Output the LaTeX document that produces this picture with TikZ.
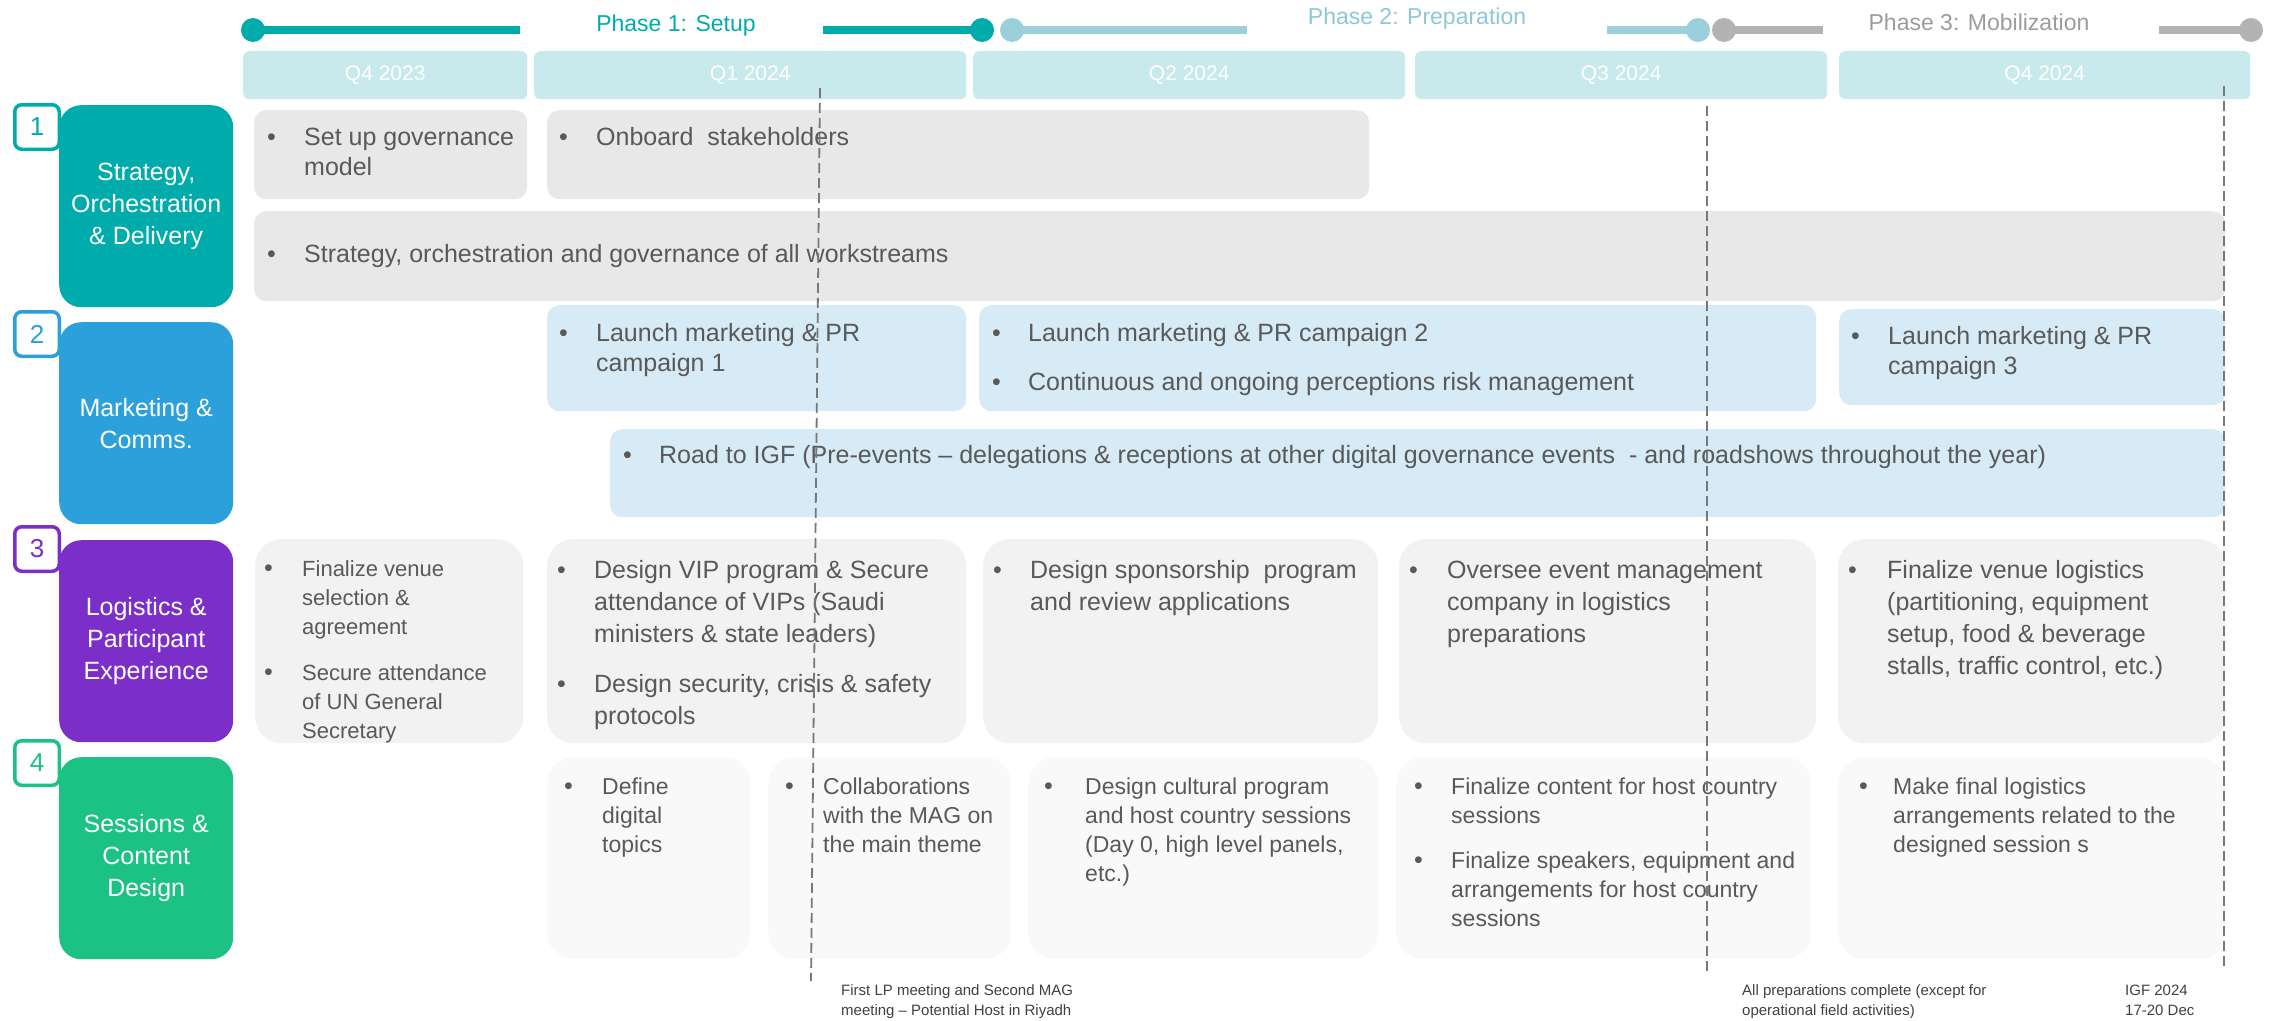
\documentclass[tikz,border=0pt]{standalone}
\usepackage{fontspec}
\setmainfont{Liberation Sans}
\usetikzlibrary{calc}
\definecolor{teal1}{HTML}{00ABAB}
\definecolor{ph2}{HTML}{9BCFDB}
\definecolor{ph2t}{HTML}{8CC8D6}
\definecolor{ph3}{HTML}{B3B3B3}
\definecolor{ph3t}{HTML}{9C9C9C}
\definecolor{qfill}{HTML}{C8EAEC}
\definecolor{cblue}{HTML}{2BA0DA}
\definecolor{cpurple}{HTML}{7B2FC8}
\definecolor{cgreen}{HTML}{1CC184}
\definecolor{gA}{HTML}{E8E8E8}
\definecolor{bB}{HTML}{D6EBF5}
\definecolor{gC}{HTML}{F2F2F2}
\definecolor{gD}{HTML}{F9F9F9}
\definecolor{txtc}{HTML}{595959}
\definecolor{dashc}{HTML}{787878}
\definecolor{annc}{HTML}{404040}
\newcommand{\fA}{\fontsize{25}{30}\selectfont}
\newcommand{\fB}{\fontsize{25}{32}\selectfont}
\newcommand{\fC}{\fontsize{22}{29}\selectfont}
\newcommand{\fD}{\fontsize{23}{29}\selectfont}
\newcommand{\bu}{{\fontsize{25}{25}\selectfont\textbullet}}
\newcommand{\BI}[1]{\makebox[#1][l]{\hspace*{-1pt}\bu}}
\tikzset{
  bx/.style={rectangle, rounded corners=12pt, inner sep=0pt, draw=none, anchor=north west},
  bxr/.style={rectangle, rounded corners=26pt, inner sep=0pt, draw=none, anchor=north west},
  tx/.style={inner sep=0pt, anchor=north west, text=txtc},
  cat/.style={rectangle, rounded corners=22pt, inner sep=0pt, anchor=north west, minimum width=174pt, minimum height=202pt, text=white, align=center, font=\fB},
  badge/.style={rectangle, rounded corners=7pt, line width=3.5pt, fill=white, minimum size=44.5pt, inner sep=0pt, font=\fontsize{26}{26}\selectfont},
  qbox/.style={rectangle, rounded corners=6pt, fill=qfill, inner sep=0pt, anchor=north west, minimum height=48pt, text=white, font=\fontsize{21}{21}\selectfont},
  dot/.style={circle, inner sep=0pt, minimum size=24pt},
  phline/.style={line width=8pt},
  dashline/.style={draw=dashc, line width=1.8pt, dash pattern=on 10pt off 5pt},
  annot/.style={inner sep=0pt, anchor=north west, text=annc, font=\fontsize{15}{20}\selectfont}
}
\begin{document}
\begin{tikzpicture}[x=1pt,y=-1pt]
\useasboundingbox (0,0) rectangle (2280,1020);
% ---------- phases ----------
\node[dot, fill=teal1] (p1a) at (253,30) {};
\node[dot, fill=teal1] (p1b) at (982,30) {};
\coordinate (p1l) at (520,30);
\coordinate (p1r) at (823,30);
\draw[phline, teal1] (p1a.center) -- (p1l);
\draw[phline, teal1] (p1r) -- (p1b.center);
\node[text=teal1, font=\fontsize{23}{23}\selectfont] (p1t) at (676,26) {Phase 1: Setup};
\node[dot, fill=ph2] (p2a) at (1012,30) {};
\node[dot, fill=ph2] (p2b) at (1698,30) {};
\coordinate (p2l) at (1247,30);
\coordinate (p2r) at (1607,30);
\draw[phline, ph2] (p2a.center) -- (p2l);
\draw[phline, ph2] (p2r) -- (p2b.center);
\node[text=ph2t, font=\fontsize{23}{23}\selectfont] (p2t) at (1417,19) {Phase 2: Preparation};
\node[dot, fill=ph3] (p3a) at (1724,30) {};
\node[dot, fill=ph3] (p3b) at (2251,30) {};
\coordinate (p3l) at (1823,30);
\coordinate (p3r) at (2159,30);
\draw[phline, ph3] (p3a.center) -- (p3l);
\draw[phline, ph3] (p3r) -- (p3b.center);
\node[text=ph3t, font=\fontsize{23}{23}\selectfont] (p3t) at (1979,22) {Phase 3: Mobilization};
% ---------- quarters ----------
\node[qbox, minimum width=284pt] (q1) at (243,51) {Q4 2023};
\node[qbox, minimum width=432pt] (q2) at (534,51) {Q1 2024};
\node[qbox, minimum width=432pt] (q3) at (973,51) {Q2 2024};
\node[qbox, minimum width=412pt] (q4) at (1415,51) {Q3 2024};
\node[qbox, minimum width=411pt] (q5) at (1839,51) {Q4 2024};
% ---------- badges and categories ----------
\node[badge, draw=teal1, text=teal1] (n1) at (37,127) {1};
\node[badge, draw=cblue, text=cblue] (n2) at (37,334) {2};
\node[badge, draw=cpurple, text=cpurple] (n3) at (37,549) {3};
\node[badge, draw=cgreen, text=cgreen] (n4) at (37,763) {4};
\node[cat, fill=teal1] (c1) at (59,105) {Strategy,\\Orchestration\\\& Delivery};
\node[cat, fill=cblue] (c2) at (59,322) {Marketing \&\\Comms.};
\node[cat, fill=cpurple] (c3) at (59,540) {Logistics \&\\Participant\\Experience};
\node[cat, fill=cgreen] (c4) at (59,757) {Sessions \&\\Content\\Design};
% ---------- row 1 ----------
\node[bx, fill=gA, minimum width=273pt, minimum height=89pt] (r1a) at (254,110) {};
\node[bx, fill=gA, minimum width=822pt, minimum height=89pt] (r1b) at (547,110) {};
\node[bx, fill=gA, minimum width=1971pt, minimum height=90pt] (r1c) at (254,211) {};
\node[tx, font=\fA] (t1a) at ($(r1a.north west)+(14,14)$) {\begin{tabular}{@{}l@{}l@{}}\BI{36pt}&Set up governance\\&model\end{tabular}};
\node[tx, font=\fA] (t1b) at ($(r1b.north west)+(13,14)$) {\begin{tabular}{@{}l@{}l@{}}\BI{36pt}&Onboard\ \ stakeholders\end{tabular}};
\node[tx, font=\fA] (t1c) at ($(r1c.north west)+(14,30)$) {\begin{tabular}{@{}l@{}l@{}}\BI{36pt}&Strategy, orchestration and governance of all workstreams\end{tabular}};
% ---------- row 2 ----------
\node[bx, fill=bB, minimum width=419pt, minimum height=106pt] (r2a) at (547,305) {};
\node[bx, fill=bB, minimum width=837pt, minimum height=106pt] (r2b) at (979,305) {};
\node[bx, fill=bB, minimum width=386pt, minimum height=96pt] (r2c) at (1839,309) {};
\node[bx, fill=bB, minimum width=1615pt, minimum height=88pt] (r2d) at (610,429) {};
\node[tx, font=\fA] (t2a) at ($(r2a.north west)+(13,15)$) {\begin{tabular}{@{}l@{}l@{}}\BI{36pt}&Launch marketing \& PR\\&campaign 1\end{tabular}};
\node[tx, font=\fA] (t2b) at ($(r2b.north west)+(14,15)$) {\begin{tabular}{@{}l@{}l@{}}\BI{35pt}&Launch marketing \& PR campaign 2\\[19pt]\BI{35pt}&Continuous and ongoing perceptions risk management\end{tabular}};
\node[tx, font=\fA] (t2c) at ($(r2c.north west)+(13,14)$) {\begin{tabular}{@{}l@{}l@{}}\BI{36pt}&Launch marketing \& PR\\&campaign 3\end{tabular}};
\node[tx, font=\fA] (t2d) at ($(r2d.north west)+(14,13)$) {\begin{tabular}{@{}l@{}l@{}}\BI{35pt}&Road to IGF (Pre-events – delegations \& receptions at other digital governance events\ \ - and roadshows throughout the year)\end{tabular}};
% ---------- row 3 ----------
\node[bxr, fill=gC, minimum width=268pt, minimum height=204pt] (r3a) at (255,539) {};
\node[bxr, fill=gC, minimum width=419pt, minimum height=204pt] (r3b) at (547,539) {};
\node[bxr, fill=gC, minimum width=395pt, minimum height=204pt] (r3c) at (983,539) {};
\node[bxr, fill=gC, minimum width=417pt, minimum height=204pt] (r3d) at (1399,539) {};
\node[bxr, fill=gC, minimum width=387pt, minimum height=204pt] (r3e) at (1838,539) {};
\node[tx, font=\fC] (t3a) at ($(r3a.north west)+(10,17)$) {\begin{tabular}{@{}l@{}l@{}}\BI{37pt}&Finalize venue\\&selection \&\\&agreement\\[17pt]\BI{37pt}&Secure attendance\\&of UN General\\&Secretary\end{tabular}};
\node[tx, font=\fB] (t3b) at ($(r3b.north west)+(11,17)$) {\begin{tabular}{@{}l@{}l@{}}\BI{36pt}&Design VIP program \& Secure\\&attendance of VIPs (Saudi\\&ministers \& state leaders)\\[18pt]\BI{36pt}&Design security, crisis \& safety\\&protocols\end{tabular}};
\node[tx, font=\fB] (t3c) at ($(r3c.north west)+(11,17)$) {\begin{tabular}{@{}l@{}l@{}}\BI{36pt}&Design sponsorship\ \ program\\&and review applications\end{tabular}};
\node[tx, font=\fB] (t3d) at ($(r3d.north west)+(11,17)$) {\begin{tabular}{@{}l@{}l@{}}\BI{37pt}&Oversee event management\\&company in logistics\\&preparations\end{tabular}};
\node[tx, font=\fB] (t3e) at ($(r3e.north west)+(11,17)$) {\begin{tabular}{@{}l@{}l@{}}\BI{38pt}&Finalize venue logistics\\&(partitioning, equipment\\&setup, food \& beverage\\&stalls, traffic control, etc.)\end{tabular}};
% ---------- row 4 ----------
\node[bxr, fill=gD, minimum width=203pt, minimum height=202pt] (r4a) at (547,757) {};
\node[bxr, fill=gD, minimum width=243pt, minimum height=202pt] (r4b) at (768,757) {};
\node[bxr, fill=gD, minimum width=350pt, minimum height=202pt] (r4c) at (1028,757) {};
\node[bxr, fill=gD, minimum width=415pt, minimum height=202pt] (r4d) at (1396,757) {};
\node[bxr, fill=gD, minimum width=387pt, minimum height=202pt] (r4e) at (1838,757) {};
\node[tx, font=\fD] (t4a) at ($(r4a.north west)+(18,17)$) {\begin{tabular}{@{}l@{}l@{}}\BI{37pt}&Define\\&digital\\&topics\end{tabular}};
\node[tx, font=\fD] (t4b) at ($(r4b.north west)+(18,17)$) {\begin{tabular}{@{}l@{}l@{}}\BI{37pt}&Collaborations\\&with the MAG on\\&the main theme\end{tabular}};
\node[tx, font=\fD] (t4c) at ($(r4c.north west)+(17,17)$) {\begin{tabular}{@{}l@{}l@{}}\BI{40pt}&Design cultural program\\&and host country sessions\\&(Day 0, high level panels,\\&etc.)\end{tabular}};
\node[tx, font=\fD] (t4d) at ($(r4d.north west)+(19,17)$) {\begin{tabular}{@{}l@{}l@{}}\BI{36pt}&Finalize content for host country\\&sessions\\[16pt]\BI{36pt}&Finalize speakers, equipment and\\&arrangements for host country\\&sessions\end{tabular}};
\node[tx, font=\fD] (t4e) at ($(r4e.north west)+(22,17)$) {\begin{tabular}{@{}l@{}l@{}}\BI{33pt}&Make final logistics\\&arrangements related to the\\&designed session s\end{tabular}};
% ---------- milestone lines ----------
\coordinate (d1t) at (820,88);
\coordinate (d1b) at (811,981);
\coordinate (d2t) at (1707,106);
\coordinate (d2b) at (1707,971);
\coordinate (d3t) at (2224,86);
\coordinate (d3b) at (2224,971);
\draw[dashline] (d1t) -- (d1b);
\draw[dashline] (d2t) -- (d2b);
\draw[dashline] (d3t) -- (d3b);
% ---------- annotations ----------
\node[annot] (a1) at (841,981) {\begin{tabular}{@{}l@{}}First LP meeting and Second MAG\\meeting – Potential Host in Riyadh\end{tabular}};
\node[annot] (a2) at (1742,981) {\begin{tabular}{@{}l@{}}All preparations complete (except for\\operational field activities)\end{tabular}};
\node[annot] (a3) at (2125,981) {\begin{tabular}{@{}l@{}}IGF 2024\\17-20 Dec\end{tabular}};
\end{tikzpicture}
\end{document}
